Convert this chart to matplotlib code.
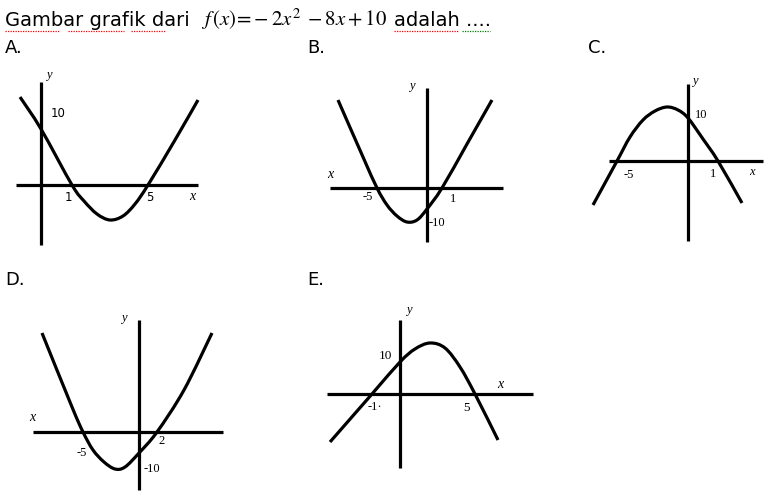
import matplotlib
matplotlib.use("Agg")
import matplotlib.pyplot as plt
from matplotlib.path import Path
from matplotlib.patches import PathPatch
import numpy as np

# ---- data: curve anchor points (px relative to each panel's origin; y up) ----
curveA_x = [-21, 0, 31, 43, 56, 69, 82, 94, 107, 134, 157]
curveA_y = [88, 56, 0, -16, -29, -35, -31, -19, 0, 45, 85]

curveB_x = [-89, -64, -50, -40, -30, -20, -10, 0, 15, 40, 65]
curveB_y = [88, 31, 0, -17, -28, -34, -32, -21, 0, 44, 88]

curveC_x = [-95, -71, -58, -45, -33, -21, -10, 0, 15, 30, 54]
curveC_y = [-44, 0, 24, 41, 50, 54, 51, 43, 22, 0, -42]

curveD_x = [-97, -67, -56, -46, -35, -24, -14, 0, 18, 45, 73]
curveD_y = [99, 25, 0, -18, -30, -37, -35, -21, 0, 42, 99]

curveE_x = [-70, -28, 0, 15, 30, 45, 60, 75, 98]
curveE_y = [-48, 0, 32, 45, 51, 46, 27, 0, -46]

# axis spans per panel (x-axis left/right, y-axis top/bottom)
axesA = [-25, 157, 103, -60]
axesB = [-97, 76, 100, -54]
axesC = [-79, 75, 77, -80]
axesD = [-106, 84, 112, -58]
axesE = [-73, 133, 74, -74]

title_words = ["Gambar grafik dari", "adalah", "...."]
option_letters = ["A.", "B.", "C.", "D.", "E."]

fig = plt.figure(figsize=(7.68, 4.98), dpi=100)
ax = fig.add_axes([0, 0, 1, 1])
ax.set_xlim(0, 768)
ax.set_ylim(498, 0)
ax.axis("off")

LW = 2.3
sans = "DejaVu Sans"
serif = "Liberation Serif"


def smooth_path(px, py):
    """Catmull-Rom control points -> cubic Bezier path drawn by matplotlib."""
    P = np.column_stack([px, py]).astype(float)
    verts = [P[0]]
    codes = [Path.MOVETO]
    n = len(P)
    for i in range(n - 1):
        p0 = P[i - 1] if i > 0 else P[i]
        p1, p2 = P[i], P[i + 1]
        p3 = P[i + 2] if i + 2 < n else P[i + 1]
        c1 = p1 + (p2 - p0) / 6.0
        c2 = p2 - (p3 - p1) / 6.0
        verts += [c1, c2, p2]
        codes += [Path.CURVE4] * 3
    return Path(verts, codes)


def panel(ox, oy, cx, cy, spans):
    cx = np.asarray(cx, float)
    cy = np.asarray(cy, float)
    ax.plot([ox + spans[0], ox + spans[1]], [oy, oy], color="black", lw=LW, solid_capstyle="butt")
    ax.plot([ox, ox], [oy - spans[2], oy - spans[3]], color="black", lw=LW, solid_capstyle="butt")
    ax.add_patch(PathPatch(smooth_path(ox + cx, oy - cy), fill=False, edgecolor="black",
                           lw=LW, capstyle="butt", joinstyle="round"))


# title
ax.text(5, 26, title_words[0], fontsize=14, family=sans, va="baseline", ha="left")
ax.text(201, 26, r"$f\,(x)\!=\!-2x^{2}\;-8x+10$", fontsize=15, va="baseline", ha="left",
        math_fontfamily="stix")
ax.text(394, 26, title_words[1] + " " + title_words[2], fontsize=14, family=sans, va="baseline", ha="left")
# spelling underlines
for x0, x1, c in [(5, 60, "red"), (68, 124, "red"), (131, 166, "red"), (394, 458, "red"), (462, 490, "green")]:
    ax.plot([x0, x1], [31, 31], color=c, lw=0.9, ls=(0, (1, 1)))

# option letters
ax.text(5, 53, option_letters[0], fontsize=13, family=sans, va="baseline")
ax.text(307, 53, option_letters[1], fontsize=13, family=sans, va="baseline")
ax.text(588, 53, option_letters[2], fontsize=13, family=sans, va="baseline")
ax.text(5, 285, option_letters[3], fontsize=13, family=sans, va="baseline")
ax.text(307, 285, option_letters[4], fontsize=13, family=sans, va="baseline")

# Panel A
panel(41, 185, curveA_x, curveA_y, axesA)
ax.text(49, 75, "y", fontsize=9, family=serif, style="italic", ha="center", va="center")
ax.text(58, 113, "10", fontsize=8.5, family=sans, ha="center", va="center")
ax.text(68, 197, "1", fontsize=8.5, family=sans, ha="center", va="center")
ax.text(150, 197, "5", fontsize=8.5, family=sans, ha="center", va="center")
ax.text(192, 196, "x", fontsize=10, family=serif, style="italic", ha="center", va="center")

# Panel B
panel(427, 188, curveB_x, curveB_y, axesB)
ax.text(412, 86, "y", fontsize=9, family=serif, style="italic", ha="center", va="center")
ax.text(330, 174, "x", fontsize=10, family=serif, style="italic", ha="center", va="center")
ax.text(368, 197, "-5", fontsize=9, family=serif, ha="center", va="center")
ax.text(453, 199, "1", fontsize=9, family=serif, ha="center", va="center")
ax.text(437, 223, "-10", fontsize=9, family=serif, ha="center", va="center")

# Panel C
panel(688, 161, curveC_x, curveC_y, axesC)
ax.text(695, 81, "y", fontsize=9, family=serif, style="italic", ha="center", va="center")
ax.text(701, 115, "10", fontsize=9, family=serif, ha="center", va="center")
ax.text(629, 175, "-5", fontsize=9, family=serif, ha="center", va="center")
ax.text(713, 174, "1", fontsize=9, family=serif, ha="center", va="center")
ax.text(752, 172, "x", fontsize=9, family=serif, style="italic", ha="center", va="center")

# Panel D
panel(139, 432, curveD_x, curveD_y, axesD)
ax.text(124, 318, "y", fontsize=9, family=serif, style="italic", ha="center", va="center")
ax.text(32, 417, "x", fontsize=10, family=serif, style="italic", ha="center", va="center")
ax.text(82, 453, "-5", fontsize=9, family=serif, ha="center", va="center")
ax.text(162, 441, "2", fontsize=9, family=serif, ha="center", va="center")
ax.text(152, 469, "-10", fontsize=9, family=serif, ha="center", va="center")

# Panel E
panel(400, 394, curveE_x, curveE_y, axesE)
ax.text(409, 310, "y", fontsize=9, family=serif, style="italic", ha="center", va="center")
ax.text(385, 356, "10", fontsize=9.5, family=serif, ha="center", va="center")
ax.text(375, 407, "-1·", fontsize=9, family=serif, ha="center", va="center")
ax.text(466, 408, "5", fontsize=9.5, family=serif, ha="center", va="center")
ax.text(500, 384, "x", fontsize=10, family=serif, style="italic", ha="center", va="center")

fig.savefig("out.png", dpi=100)
